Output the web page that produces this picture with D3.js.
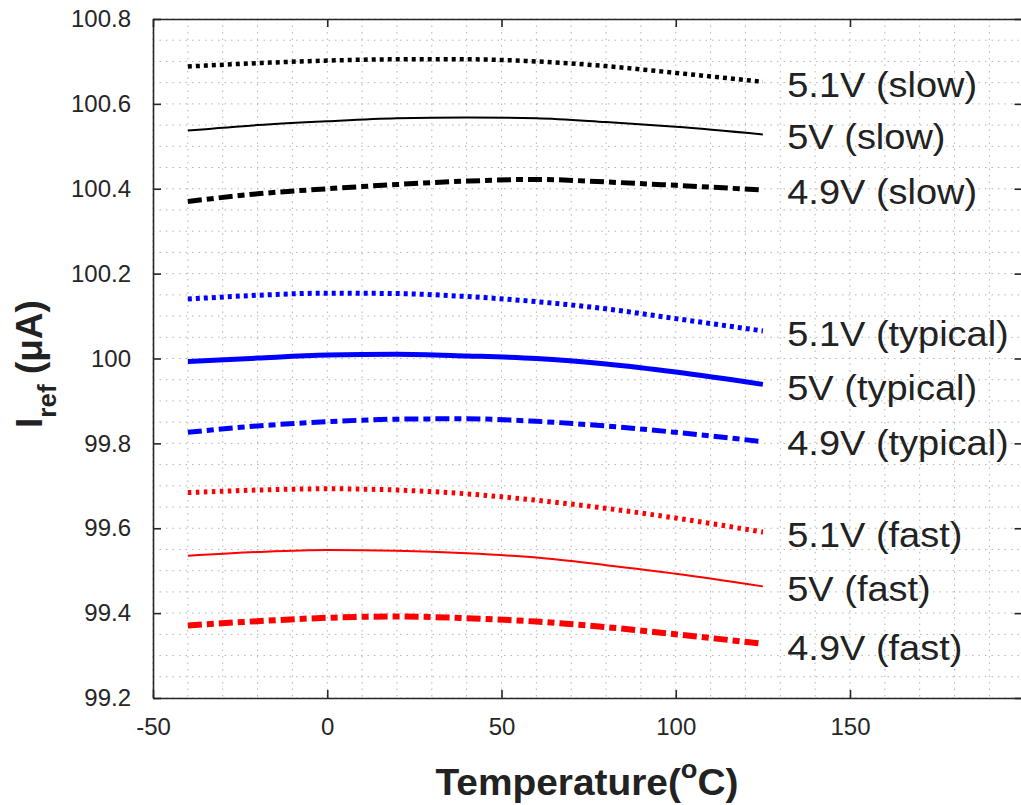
<!DOCTYPE html>
<html><head><meta charset="utf-8">
<script src="https://cdn.jsdelivr.net/npm/d3@7"></script>
<style>body{margin:0;background:#fff;} svg{display:block;}</style>
</head><body>
<svg id="chart" width="1021" height="805"></svg>
<script>
// ---- data ----
const temps = [-40, -20, 0, 20, 40, 60, 80, 100, 125];
const slow51 = [100.688, 100.696, 100.702, 100.705, 100.705, 100.700, 100.689, 100.673, 100.652];
const slow50 = [100.537, 100.550, 100.559, 100.566, 100.568, 100.566, 100.557, 100.546, 100.528];
const slow49 = [100.370, 100.388, 100.400, 100.410, 100.418, 100.422, 100.416, 100.408, 100.397];
const typ51  = [100.140, 100.149, 100.154, 100.153, 100.146, 100.134, 100.117, 100.094, 100.065];
const typ50  = [99.993, 100.001, 100.008, 100.010, 100.006, 100.000, 99.987, 99.968, 99.939];
const typ49  = [99.826, 99.841, 99.851, 99.857, 99.858, 99.852, 99.841, 99.826, 99.804];
const fast51 = [99.684, 99.690, 99.693, 99.690, 99.681, 99.666, 99.647, 99.624, 99.591];
const fast50 = [99.535, 99.544, 99.549, 99.547, 99.541, 99.531, 99.513, 99.493, 99.463];
const fast49 = [99.371, 99.381, 99.389, 99.392, 99.388, 99.380, 99.367, 99.350, 99.328];
const seriesNames = ["5.1V (slow)", "5V (slow)", "4.9V (slow)",
                     "5.1V (typical)", "5V (typical)", "4.9V (typical)",
                     "5.1V (fast)", "5V (fast)", "4.9V (fast)"];
const labelX = 132;
const labelY = [100.616, 100.494, 100.364, 100.030, 99.902, 99.773, 99.556, 99.429, 99.290];
const xTicks = [-50, 0, 50, 100, 150];
const xTickLabels = ["-50", "0", "50", "100", "150"];
const yTicks = [99.2, 99.4, 99.6, 99.8, 100, 100.2, 100.4, 100.6, 100.8];
const yTickLabels = ["99.2", "99.4", "99.6", "99.8", "100", "100.2", "100.4", "100.6", "100.8"];

// ---- styles ----
const seriesData = [slow51, slow50, slow49, typ51, typ50, typ49, fast51, fast50, fast49];
const colors = ["#000", "#000", "#000", "#0000ff", "#0000ff", "#0000ff", "#ff0000", "#ff0000", "#ff0000"];
const widths = [4.5, 2, 5, 5, 5, 5, 5, 2, 6];
const dashes = ["4,4", null, "14,5,7,5", "4,4", null, "14,5,7,5", "3.5,4.5", null, "14,5,7,5"];

const svg = d3.select("#chart");
const FONT = "'Liberation Sans', Arial, Helvetica, sans-serif";
const pLeft = 153, pRight = 1022.5, pTop = 19, pBottom = 698;
const x = d3.scaleLinear().domain([-50, 199.5]).range([pLeft, pRight]);
const y = d3.scaleLinear().domain([99.2, 100.8]).range([pBottom, pTop]);

// grid
const gx = d3.range(-50, 200, 10);
const gy = d3.range(0, 33).map(i => 99.2 + i * 0.05);
const grid = svg.append("g").attr("stroke", "#b4b4b4").attr("stroke-width", 1).attr("stroke-dasharray", "1.5,5");
grid.selectAll("line.v").data(gx).join("line").attr("class", "v")
  .attr("x1", d => x(d)).attr("x2", d => x(d)).attr("y1", pTop).attr("y2", pBottom);
grid.selectAll("line.h").data(gy).join("line").attr("class", "h")
  .attr("x1", pLeft).attr("x2", pRight).attr("y1", d => y(d)).attr("y2", d => y(d));

// lines
const line = d3.line().x((d, i) => x(temps[i])).y(d => y(d)).curve(d3.curveMonotoneX);
seriesData.forEach((s, k) => {
  svg.append("path").datum(s).attr("d", line).attr("fill", "none")
    .attr("stroke", colors[k]).attr("stroke-width", widths[k])
    .attr("stroke-dasharray", dashes[k]);
});

// axes
const axisColor = "#262626";
const xAxis = svg.append("g").attr("transform", `translate(0,${pBottom})`)
  .call(d3.axisBottom(x).tickValues(xTicks).tickSizeInner(-8).tickSizeOuter(0).tickPadding(20)
    .tickFormat((d, i) => xTickLabels[i]));
const xAxisTop = svg.append("g").attr("transform", `translate(0,${pTop})`)
  .call(d3.axisTop(x).tickValues(xTicks).tickSizeInner(-8).tickSizeOuter(0).tickFormat(""));
const yAxis = svg.append("g").attr("transform", `translate(${pLeft},0)`)
  .call(d3.axisLeft(y).tickValues(yTicks).tickSizeInner(-8).tickSizeOuter(0).tickPadding(22)
    .tickFormat((d, i) => yTickLabels[i]));
const yAxisR = svg.append("g").attr("transform", `translate(${pRight},0)`)
  .call(d3.axisRight(y).tickValues(yTicks).tickSizeInner(-8).tickSizeOuter(0).tickFormat(""));
[xAxis, xAxisTop, yAxis, yAxisR].forEach(g => {
  g.select(".domain").attr("stroke", axisColor).attr("stroke-width", 1.6);
  g.selectAll(".tick line").attr("stroke", axisColor).attr("stroke-width", 1.6);
  g.selectAll("text").attr("fill", axisColor).attr("font-family", FONT).attr("font-size", 24);
});
xAxis.selectAll("text").attr("dy", "0.71em");

// series labels
svg.append("g").selectAll("text").data(seriesNames).join("text")
  .attr("transform", (d, i) => `translate(${x(labelX)},${y(labelY[i])}) scale(1.085,1)`)
  .attr("font-family", FONT).attr("font-size", 35).attr("fill", "#222")
  .text(d => d);

// x title
const xt = svg.append("text").attr("transform", "translate(587,795) scale(1.05,1)").attr("text-anchor", "middle")
  .attr("font-family", FONT).attr("font-weight", "bold").attr("font-size", 37).attr("fill", "#222");
xt.append("tspan").text("Temperature(");
xt.append("tspan").attr("font-size", 26).attr("dy", -17).text("o");
xt.append("tspan").attr("dy", 17).text("C)");

// y title
const yt = svg.append("text").attr("transform", "translate(42,364) rotate(-90)").attr("text-anchor", "middle")
  .attr("font-family", FONT).attr("font-weight", "bold").attr("font-size", 37).attr("fill", "#222");
yt.append("tspan").text("I");
yt.append("tspan").attr("font-size", 26).attr("dy", 14).text("ref");
yt.append("tspan").attr("dy", -14).text(" (μA)");
</script>
</body></html>
